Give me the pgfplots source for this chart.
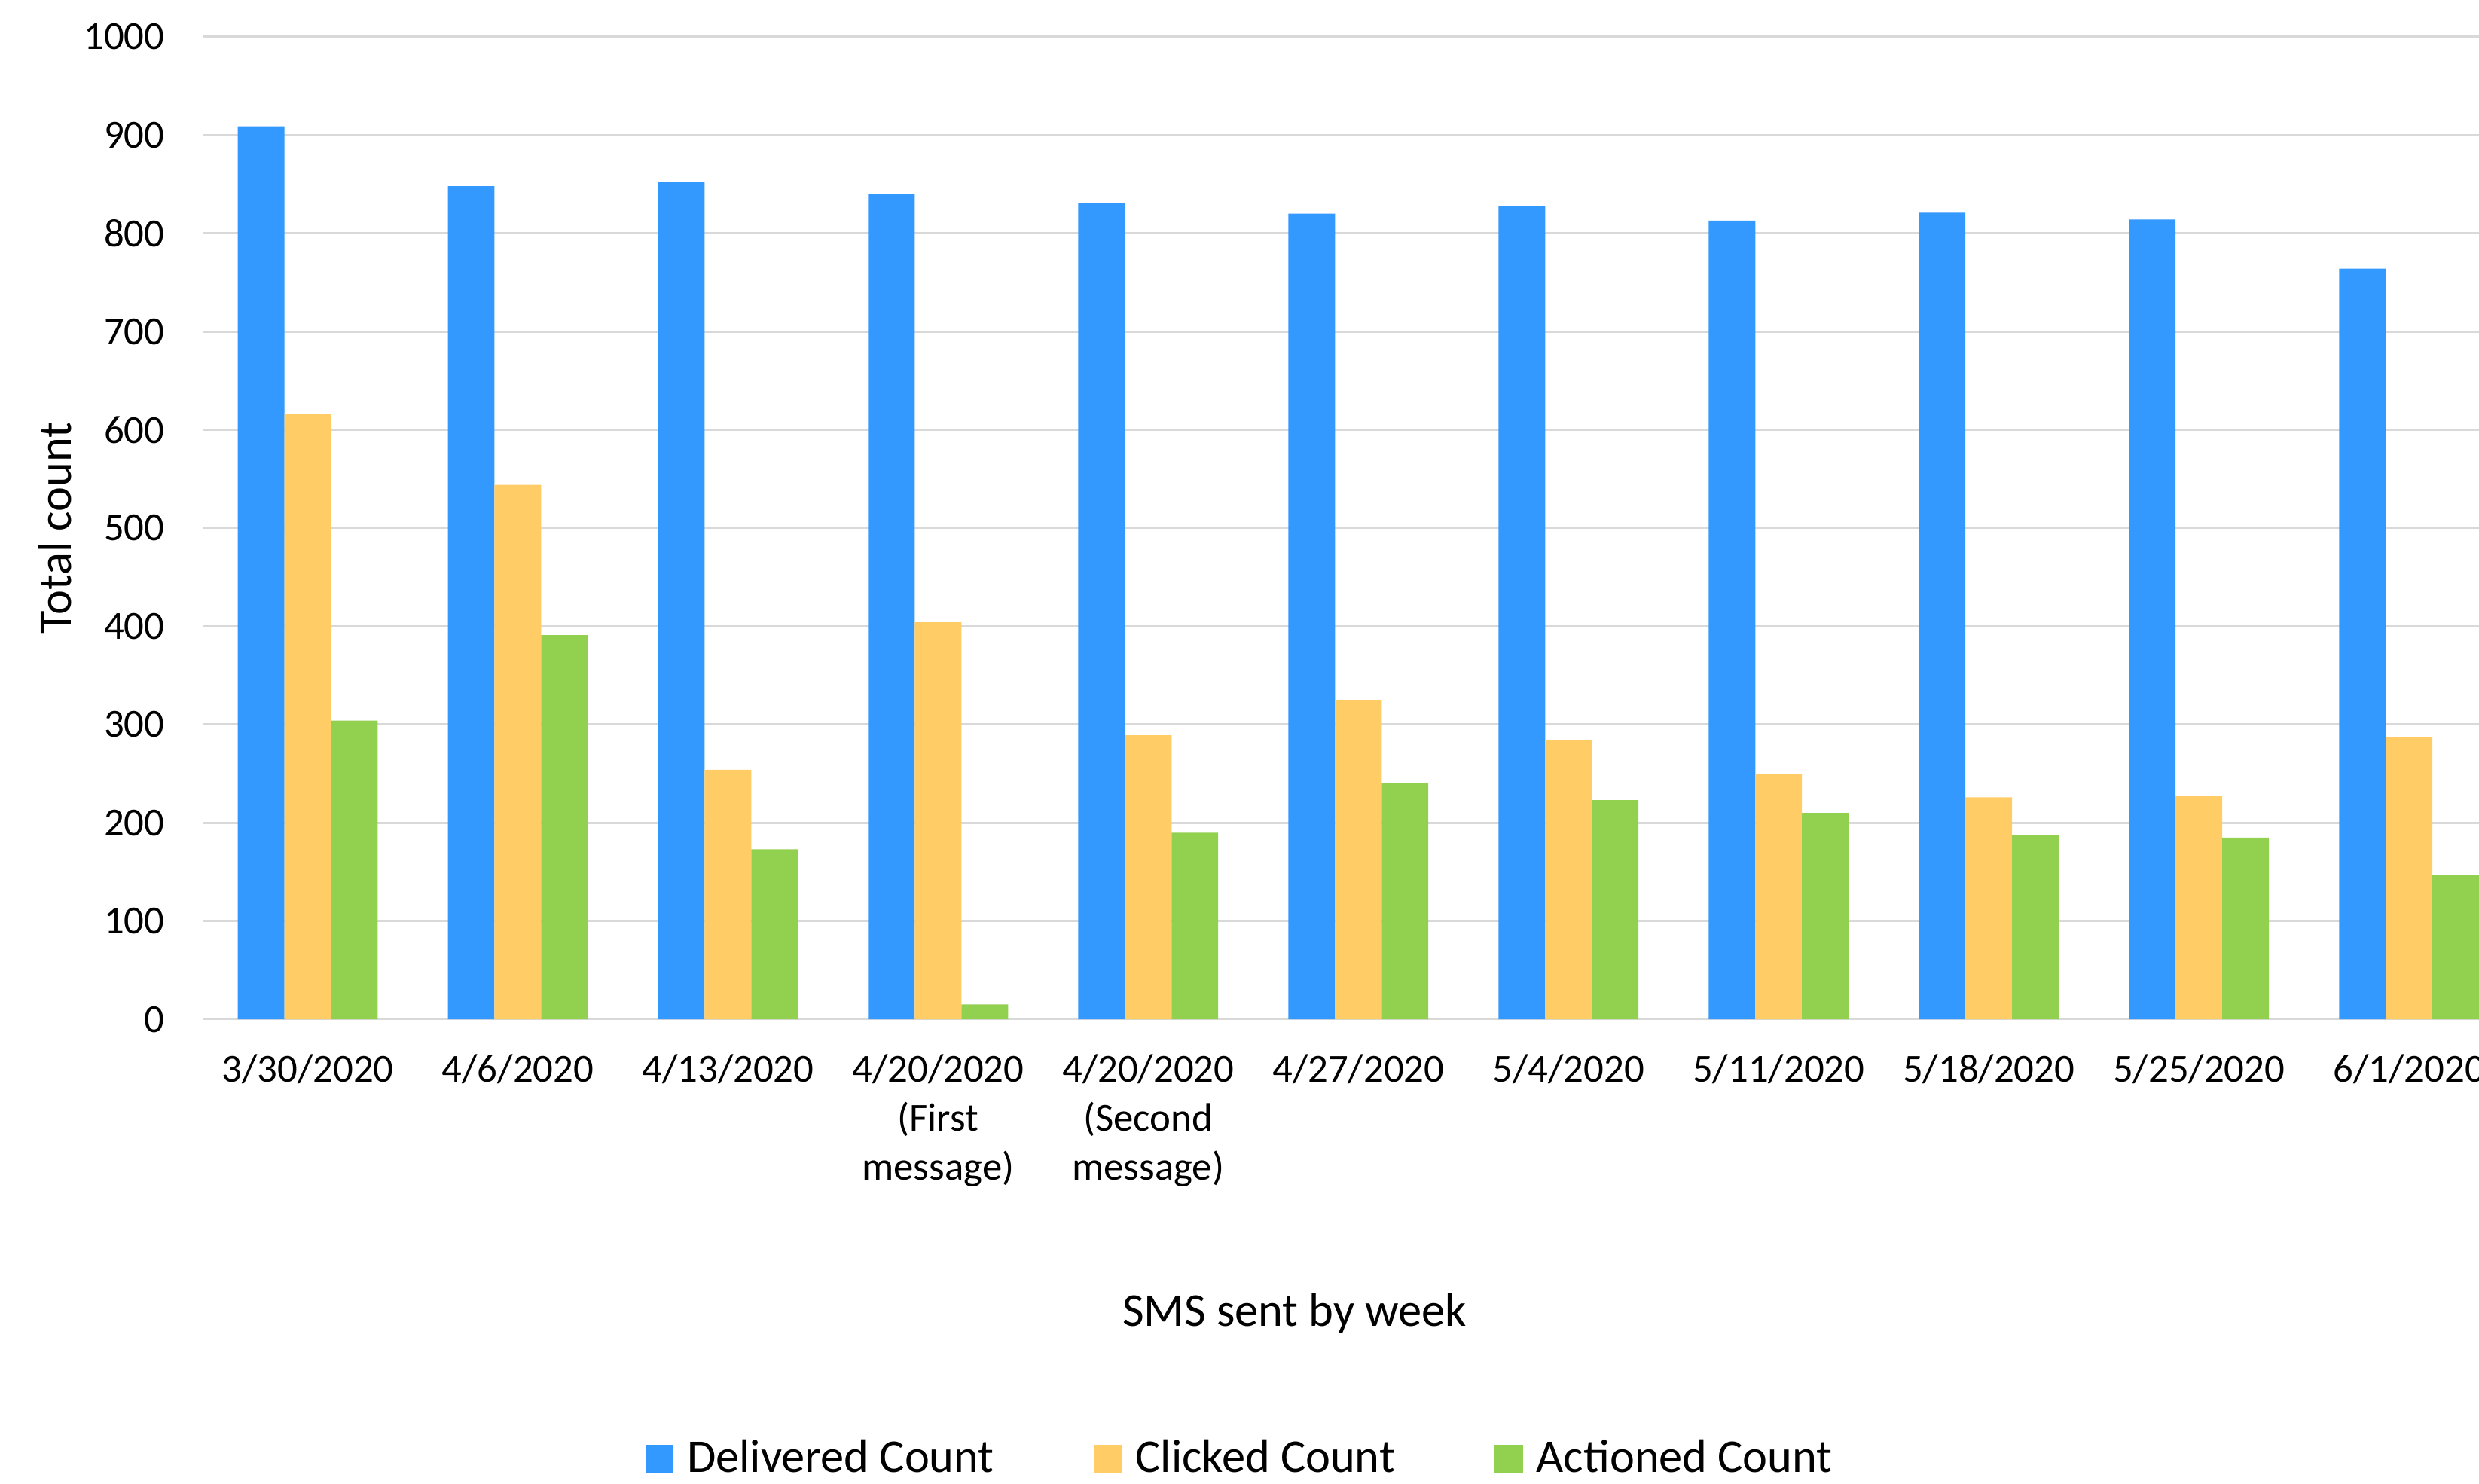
\documentclass[border=0pt]{standalone}
\usepackage{pgfplots}
\pgfplotsset{compat=1.18}
\usepackage{fontspec}
\setmainfont{Carlito}
\definecolor{cblue}{HTML}{3399FF}
\definecolor{corange}{HTML}{FFCC66}
\definecolor{cgreen}{HTML}{92D050}
\definecolor{cgrid}{HTML}{D9D9D9}
\begin{document}
\begin{tikzpicture}
\begin{axis}[
 at={(0,0)}, anchor=south west, scale only axis,
 width=629.58pt, height=271.7pt,
 xmin=-0.5, xmax=10.333, ymin=0, ymax=1000,
 ybar=0pt, bar width=12.9pt,
 every axis plot post/.append style={legend image code/.code={\fill[##1] (0pt,-3.9pt) rectangle (7.8pt,3.9pt); \path (9.6pt,0pt);}},
 xtick={0,...,10},
 xticklabels={3/30/2020, 4/6/2020, 4/13/2020, {4/20/2020\\(First\\message)}, {4/20/2020\\(Second\\message)}, 4/27/2020, 5/4/2020, 5/11/2020, 5/18/2020, 5/25/2020, 6/1/2020},
 ytick={0,100,...,1000},
 ymajorgrids, major grid style={cgrid, line width=0.6pt},
 axis line style={draw=none},
 major tick length=0pt,
 tick label style={font=\fontsize{11}{13.5}\selectfont},
 /pgf/number format/assume math mode=true,
 /pgf/number format/1000 sep={},
 xticklabel style={align=center, yshift=-6.3pt},
 yticklabel style={xshift=-7pt},
 xlabel={SMS sent by week},
 ylabel={Total count},
 every axis x label/.style={at={(rel axis cs:0.4797,0)}, yshift=-81.5pt, anchor=center, font=\fontsize{13}{15}\selectfont},
 every axis y label/.style={at={(rel axis cs:0,0.5)}, xshift=-40.8pt, rotate=90, anchor=center, font=\fontsize{13}{15}\selectfont},
 legend style={at={(rel axis cs:0.4568,0)}, yshift=-121.5pt, anchor=center, draw=none, legend columns=3, font=\fontsize{13}{15}\selectfont, /tikz/every even column/.append style={column sep=25.5pt}},
]
\addplot[fill=cblue, draw=none] coordinates {(0,909) (1,848) (2,852) (3,840) (4,831) (5,820) (6,828) (7,813) (8,821) (9,814) (10,764)};
\addplot[fill=corange, draw=none] coordinates {(0,616) (1,544) (2,254) (3,404) (4,289) (5,325) (6,284) (7,250) (8,226) (9,227) (10,287)};
\addplot[fill=cgreen, draw=none] coordinates {(0,304) (1,391) (2,173) (3,15) (4,190) (5,240) (6,223) (7,210) (8,187) (9,185) (10,147)};
\legend{Delivered Count, Clicked Count, Actioned Count}
\end{axis}
\pgfresetboundingbox
\path[use as bounding box] (-56.04pt,-128.33pt) rectangle (629.58pt,281.88pt);
\end{tikzpicture}
\end{document}
